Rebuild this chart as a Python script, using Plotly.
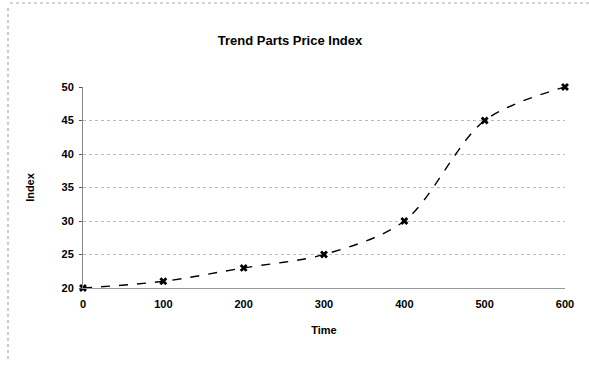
import plotly.graph_objects as go

time = [0, 100, 200, 300, 400, 500, 600]
index_values = [20, 21, 23, 25, 30, 45, 50]
y_ticks = [20, 25, 30, 35, 40, 45, 50]
x_ticks = [0, 100, 200, 300, 400, 500, 600]

font_family = "Liberation Sans, Arial, sans-serif"

fig = go.Figure()
fig.add_trace(go.Scatter(
    x=time, y=index_values,
    mode="lines+markers",
    line=dict(color="black", width=1.4, dash="dash", shape="spline", smoothing=0.9),
    marker=dict(symbol="x", size=7, color="black"),
    cliponaxis=False,
    showlegend=False,
))

W, H = 589, 367
L, R, T, B = 83, 24, 87, 79
pw, ph = W - L - R, H - T - B

def px(x):
    return (x - L) / pw

def py(y):
    return (H - B - y) / ph

fig.update_layout(
    width=W, height=H,
    margin=dict(l=L, r=R, t=T, b=B),
    paper_bgcolor="white", plot_bgcolor="white",
    title=dict(text="<b>Trend Parts Price Index</b>", x=px(290), xanchor="center",
               xref="paper", y=1 - 40 / H, yanchor="middle",
               font=dict(family=font_family, size=13, color="black")),
    font=dict(family=font_family, color="black"),
    xaxis=dict(
        range=[0, 600], tickvals=x_ticks, ticktext=[f"<b>{v}</b>" for v in x_ticks],
        showgrid=False, zeroline=False,
        showline=True, linecolor="#999", linewidth=1,
        ticks="", ticklabelstandoff=6, tickfont=dict(size=11, family=font_family),
        title=dict(text="<b>Time</b>", font=dict(size=11, family=font_family), standoff=17),
    ),
    yaxis=dict(
        range=[20, 50], tickvals=y_ticks, ticktext=[f"<b>{v}</b>" for v in y_ticks],
        showgrid=True, gridcolor="#bbb", griddash="dot", gridwidth=1,
        zeroline=False,
        showline=True, linecolor="#888", linewidth=1,
        ticks="outside", ticklen=3, tickcolor="#555", ticklabelstandoff=3,
        tickfont=dict(size=11, family=font_family),
        title=dict(text="<b>Index</b>", font=dict(size=11, family=font_family), standoff=24),
    ),
    shapes=[
        dict(type="line", xref="paper", yref="paper", x0=px(10), x1=px(589), y0=py(3), y1=py(3),
             line=dict(color="#aaa", width=1, dash="dot")),
        dict(type="line", xref="paper", yref="paper", x0=px(8), x1=px(8), y0=py(8), y1=py(360),
             line=dict(color="#999", width=1, dash="dot")),
    ],
)

fig.write_html("out.html", config={"displayModeBar": False},
               post_script="document.body.style.margin='0';")
